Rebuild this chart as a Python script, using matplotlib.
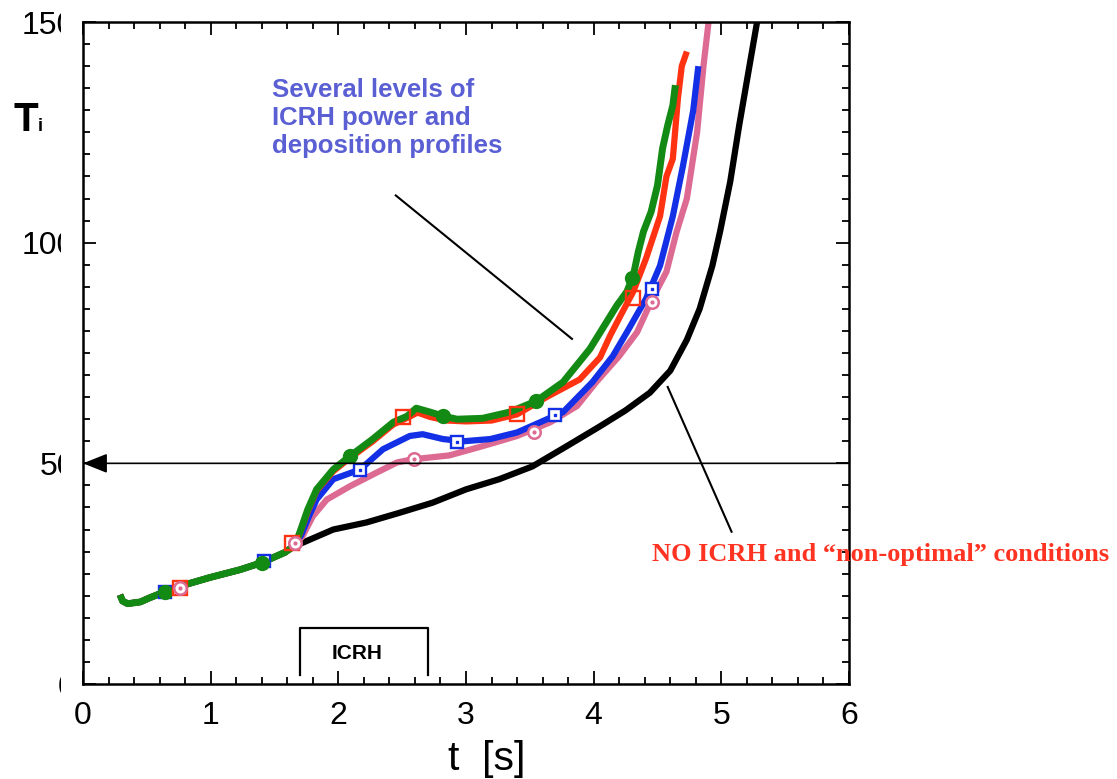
import matplotlib
matplotlib.use("Agg")
import matplotlib.pyplot as plt
import numpy as np
from matplotlib.patches import Rectangle
from matplotlib.ticker import MultipleLocator

# ---------------- data ----------------
# shared early part (all discharges coincide before ICRH)
t_early = [0.29, 0.31, 0.35, 0.45, 0.52, 0.64, 0.80, 0.99, 1.23, 1.40, 1.58, 1.66]
T_early = [2.02, 1.88, 1.82, 1.86, 1.95, 2.09, 2.25, 2.41, 2.59, 2.75, 2.98, 3.14]

t_green = [1.70, 1.76, 1.83, 1.96, 2.09, 2.27, 2.43, 2.54, 2.61, 2.72, 2.82, 2.93, 3.13, 3.34,
           3.55, 3.76, 3.97, 4.18, 4.26, 4.31, 4.35, 4.39, 4.45, 4.50, 4.54, 4.58, 4.62, 4.64]
T_green = [3.45, 3.95, 4.41, 4.86, 5.16, 5.55, 5.93, 6.07, 6.25, 6.16, 6.07, 6.00, 6.02, 6.16,
           6.41, 6.84, 7.59, 8.57, 8.89, 9.25, 9.80, 10.25, 10.70, 11.30, 12.14, 12.66, 13.11, 13.57]

t_red = [1.70, 1.76, 1.83, 1.96, 2.09, 2.27, 2.43, 2.54, 2.62, 2.72, 2.85, 3.00, 3.20, 3.40,
         3.63, 3.89, 4.05, 4.13, 4.22, 4.31, 4.41, 4.52, 4.57, 4.62, 4.66, 4.69, 4.73]
T_red = [3.42, 3.90, 4.38, 4.82, 5.12, 5.50, 5.88, 6.03, 6.15, 6.05, 5.97, 5.95, 5.97, 6.11,
         6.50, 6.90, 7.40, 7.90, 8.40, 8.89, 9.64, 10.60, 11.50, 11.90, 13.27, 14.00, 14.33]

t_blue = [1.71, 1.77, 1.83, 1.96, 2.17, 2.35, 2.56, 2.66, 2.82, 2.98, 3.19, 3.40, 3.58, 3.76,
          3.99, 4.15, 4.26, 4.41, 4.52, 4.62, 4.70, 4.78, 4.82]
T_blue = [3.38, 3.80, 4.18, 4.64, 4.86, 5.32, 5.62, 5.66, 5.55, 5.50, 5.55, 5.70, 5.93, 6.16,
          6.84, 7.43, 7.97, 8.73, 9.48, 10.60, 11.75, 13.00, 14.00]

t_pink = [1.72, 1.80, 1.91, 2.09, 2.30, 2.46, 2.58, 2.87, 3.13, 3.40, 3.66, 3.87, 4.02, 4.20,
          4.34, 4.46, 4.57, 4.65, 4.73, 4.81, 4.86, 4.90]
T_pink = [3.35, 3.80, 4.18, 4.48, 4.79, 5.02, 5.09, 5.18, 5.39, 5.62, 5.93, 6.30, 6.84, 7.43,
          7.97, 8.73, 9.34, 10.25, 11.00, 12.50, 14.00, 15.00]

t_black = [1.72, 1.96, 2.22, 2.48, 2.74, 3.00, 3.26, 3.52, 3.79, 4.05, 4.25, 4.44, 4.60, 4.73,
           4.83, 4.93, 4.99, 5.07, 5.14, 5.22, 5.28]
T_black = [3.20, 3.50, 3.66, 3.88, 4.11, 4.41, 4.64, 4.93, 5.39, 5.84, 6.20, 6.60, 7.10, 7.80,
           8.50, 9.48, 10.25, 11.39, 12.66, 14.00, 15.00]

# markers along the curves
t_green_mk = [0.64, 1.40, 2.09, 2.82, 3.55, 4.30]
T_green_mk = [2.09, 2.75, 5.16, 6.07, 6.41, 9.20]
t_red_mk = [0.76, 1.64, 2.51, 3.40, 4.31]
T_red_mk = [2.18, 3.20, 6.04, 6.11, 8.75]
t_blue_mk = [0.64, 1.42, 2.17, 2.93, 3.70, 4.46]
T_blue_mk = [2.09, 2.78, 4.86, 5.48, 6.09, 8.95]
t_pink_mk = [0.76, 1.66, 2.59, 3.53, 4.46]
T_pink_mk = [2.18, 3.20, 5.09, 5.70, 8.66]

x_ticks = [0, 1, 2, 3, 4, 5, 6]
y_ticks = [0, 5, 10, 15]
y_ticklabels = ["0", "50", "100", "150"]

icrh_start, icrh_end = 1.70, 2.70
ref_level = 5.0

# ---------------- style ----------------
GREEN = "#138a13"
RED = "#ff3311"
BLUE = "#1430e6"
PINK = "#dc6a92"
BLACK = "#000000"
TXT_BLUE = "#5a5fd4"
TXT_RED = "#ff3322"

plt.rcParams["font.family"] = ["Liberation Sans", "DejaVu Sans"]

W, H = 1117, 779
fig = plt.figure(figsize=(W / 100, H / 100), dpi=100)
ax = fig.add_axes([83 / W, 1 - 684 / H, (849 - 83) / W, (684 - 22) / H])
ax.set_xlim(0, 6)
ax.set_ylim(0, 15)


def full(te, Te, t, T):
    return np.array(te + t), np.array(Te + T)


lw = 4.5
for (t, T, c, w) in [(t_black, T_black, BLACK, lw),
                     (t_pink, T_pink, PINK, lw),
                     (t_blue, T_blue, BLUE, lw),
                     (t_red, T_red, RED, lw),
                     (t_green, T_green, GREEN, 5.0)]:
    x, y = full(t_early, T_early, t, T)
    ax.plot(x, y, color=c, lw=w, solid_capstyle="butt", solid_joinstyle="round", zorder=2)

# markers
ax.plot(t_blue_mk, T_blue_mk, ls="none", marker="s", ms=9, mfc="white", mec=BLUE, mew=1.7, zorder=4)
ax.plot(t_blue_mk, T_blue_mk, ls="none", marker="s", ms=2, mfc=BLUE, mec=BLUE, zorder=4.1)
ax.plot(t_green_mk, T_green_mk, ls="none", marker="o", ms=10, mfc=GREEN, mec=GREEN, zorder=4.2)
ax.plot(t_red_mk, T_red_mk, ls="none", marker="s", ms=10, mfc="none", mec=RED, mew=1.7, zorder=4.3)
ax.plot(t_pink_mk, T_pink_mk, ls="none", marker="o", ms=9, mfc="white", mec=PINK, mew=1.8, zorder=4.4)
ax.plot(t_pink_mk, T_pink_mk, ls="none", marker="o", ms=2, mfc=PINK, mec=PINK, zorder=4.5)

# reference arrow at T = 5
ax.annotate("", xy=(0, ref_level), xytext=(6.0, ref_level),
            arrowprops=dict(arrowstyle="-|>,head_length=1.0,head_width=0.4", color="black",
                            lw=1.2, shrinkA=0, shrinkB=0, mutation_scale=15),
            zorder=6, annotation_clip=False)

# pointer lines
ax.plot([2.45, 3.83], [11.07, 7.82], color="black", lw=1.5, zorder=5)
ax.plot([4.58, 5.08], [6.73, 3.45], color="black", lw=1.5, zorder=5)

# ICRH bracket
ax.plot([icrh_start, icrh_start, icrh_end, icrh_end], [0.2, 1.27, 1.27, 0.2],
        color="black", lw=1.6, zorder=5)
ax.text((icrh_start + icrh_end) / 2 - 0.05, 0.70, "ICRH", fontsize=15, fontweight="bold",
        ha="center", va="center", zorder=6)

# annotations
ax.text(1.48, 13.72, "Several levels of\nICRH power and\ndeposition profiles",
        color=TXT_BLUE, fontsize=18.5, fontweight="bold", ha="left", va="top",
        linespacing=1.2, zorder=6)
fig.text(652 / W, 1 - 555 / H, "NO ICRH and \u201cnon-optimal\u201d conditions",
         family=["Liberation Serif", "DejaVu Serif"], color=TXT_RED, fontsize=19,
         fontweight="bold", ha="left", va="center", zorder=6)

# axes styling
for s in ax.spines.values():
    s.set_linewidth(1.8)
ax.set_xticks(x_ticks)
ax.set_yticks(y_ticks)
ax.set_yticklabels(y_ticklabels)
ax.xaxis.set_minor_locator(MultipleLocator(0.2))
ax.yaxis.set_minor_locator(MultipleLocator(0.5))
ax.tick_params(which="both", direction="in", top=True, right=True, width=1.3)
ax.tick_params(which="major", length=9.5)
ax.tick_params(which="minor", length=5)
ax.tick_params(axis="x", which="major", labelsize=23, pad=12)
ax.tick_params(axis="y", which="major", labelsize=23, pad=5.5)

# mask that cuts the trailing digits of the y tick labels (as in the original)
fig.add_artist(Rectangle((61 / W, 1 - 698 / H), 20 / W, 698 / H, transform=fig.transFigure,
                         facecolor="white", edgecolor="none", zorder=10))

# axis labels
fig.text(487 / W, 1 - 759 / H, "t  [s]", fontsize=29.5, ha="center", va="center")
fig.text(14 / W, 1 - 131 / H, "T", fontsize=29, fontweight="bold", ha="left", va="baseline")
fig.text(38 / W, 1 - 131 / H, "i", fontsize=13, fontweight="bold", ha="left", va="baseline")

fig.savefig("out.png", dpi=100)
